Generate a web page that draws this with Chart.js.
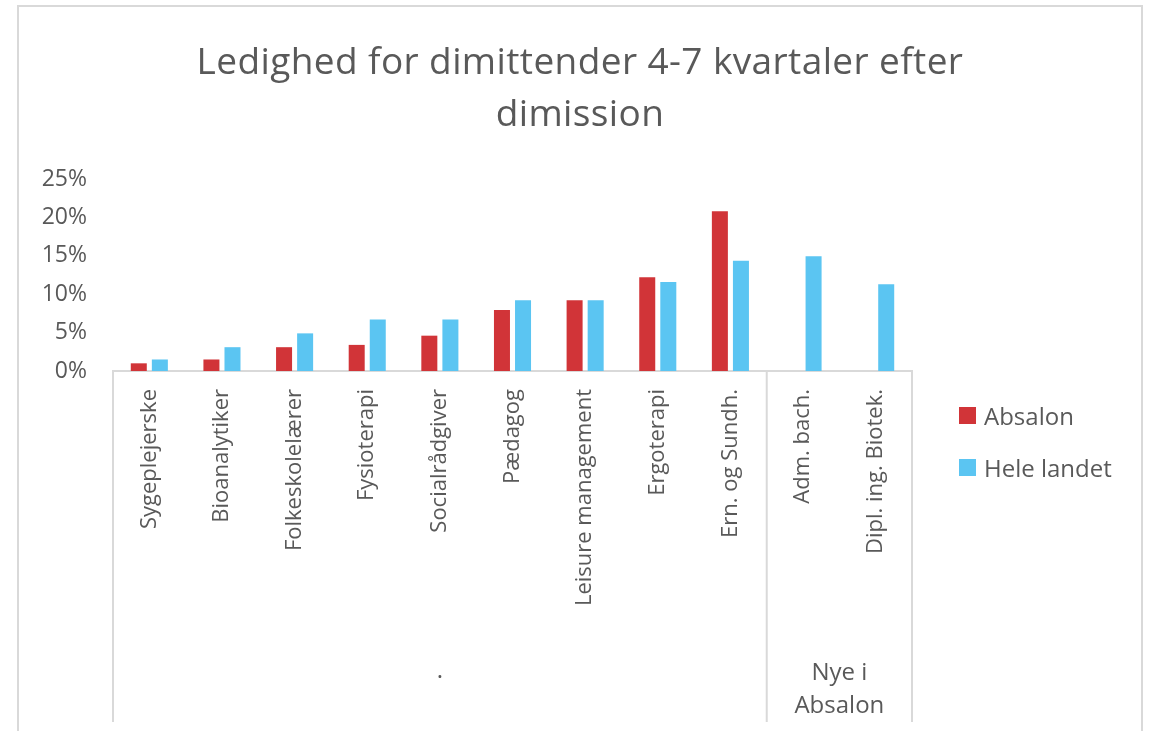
<!DOCTYPE html>
<html>
<head>
<meta charset="utf-8">
<script src="https://cdn.jsdelivr.net/npm/chart.js@4.4.1/dist/chart.umd.min.js"></script>
<style>
  html, body { margin: 0; padding: 0; background: #fff; overflow: hidden; }
  #wrap { position: relative; width: 1150px; height: 731px; }
  #frame { position: absolute; left: 17px; top: 5px; width: 1122px; height: 780px; border: 2px solid #d9d9d9; }
  #title { position: absolute; left: 18px; width: 1124px; top: 34px; text-align: center;
           font: 37px "Open Sans", sans-serif; line-height: 52px; color: #595959; letter-spacing: 0.4px; }
  #legend { position: absolute; left: 959px; top: 389px; font: 24px "Open Sans", sans-serif; color: #595959; }
  #legend .row { height: 52px; display: flex; align-items: center; }
  #legend .sw { width: 17px; height: 17px; margin-right: 8px; }
  canvas { position: absolute; left: 0; top: 0; }
</style>
</head>
<body>
<div id="wrap">
  <div id="frame"></div>
  <canvas id="chart" width="1150" height="731"></canvas>
  <div id="title"></div>
  <div id="legend"></div>
</div>
<script>
// Data (percent)
const titleLines = ["Ledighed for dimittender 4-7 kvartaler efter", "dimission"];
const categories = ["Sygeplejerske", "Bioanalytiker", "Folkeskolelærer", "Fysioterapi", "Socialrådgiver",
  "Pædagog", "Leisure management", "Ergoterapi", "Ern. og Sundh.", "Adm. bach.", "Dipl. ing. Biotek."];
const absalon = [1.0, 1.5, 3.1, 3.4, 4.6, 7.95, 9.2, 12.2, 20.8, null, null];
const heleLandet = [1.5, 3.1, 4.9, 6.7, 6.7, 9.2, 9.2, 11.6, 14.35, 14.95, 11.3];
const seriesNames = ["Absalon", "Hele landet"];
const seriesColors = ["#d13438", "#5bc5f2"];
const groupLabels = [["."], ["Nye i", "Absalon"]];
const groupSizes = [9, 2];
const yTicks = [0, 5, 10, 15, 20, 25];

const textColor = "#595959";
const lineColor = "#d9d9d9";

document.getElementById("title").innerHTML = titleLines.join("<br>");
document.getElementById("legend").innerHTML = seriesNames.map((n, i) =>
  `<div class="row"><div class="sw" style="background:${seriesColors[i]}"></div>${n}</div>`).join("");

// tegner gruppe-aksen (linjer + gruppenavne) under kategorierne
const groupAxis = {
  id: "groupAxis",
  afterDraw(chart) {
    const x = chart.scales.x;
    const ctx = chart.ctx;
    const half = (x.getPixelForValue(1) - x.getPixelForValue(0)) / 2;
    const bottom = x.bottom;
    ctx.save();
    ctx.strokeStyle = lineColor;
    ctx.lineWidth = 2;
    let start = 0;
    const edges = [x.getPixelForValue(0) - half];
    groupSizes.forEach(s => {
      start += s;
      edges.push(x.getPixelForValue(start - 1) + half);
    });
    edges.forEach(e => {
      ctx.beginPath();
      ctx.moveTo(e, x.top);
      ctx.lineTo(e, bottom);
      ctx.stroke();
    });
    ctx.fillStyle = textColor;
    ctx.font = '24px "Open Sans", sans-serif';
    ctx.textAlign = "center";
    ctx.textBaseline = "alphabetic";
    groupLabels.forEach((lines, g) => {
      const cx = (edges[g] + edges[g + 1]) / 2;
      if (lines.length === 1) {
        ctx.fillText(lines[0], cx, 678);
      } else {
        lines.forEach((t, k) => ctx.fillText(t, cx, 680 + k * 33));
      }
    });
    ctx.restore();
  }
};

new Chart(document.getElementById("chart"), {
  type: "bar",
  data: {
    labels: categories,
    datasets: [
      { label: seriesNames[0], data: absalon, backgroundColor: seriesColors[0] },
      { label: seriesNames[1], data: heleLandet, backgroundColor: seriesColors[1] }
    ]
  },
  options: {
    responsive: false,
    animation: false,
    layout: { padding: { top: 179, left: 0, right: 238, bottom: 9 } },
    categoryPercentage: 0.58,
    barPercentage: 0.76,
    plugins: {
      legend: { display: false },
      title: { display: false },
      tooltip: { enabled: false }
    },
    scales: {
      x: {
        grid: { display: false, drawTicks: false },
        border: { display: true, color: lineColor, width: 2 },
        ticks: {
          color: textColor,
          font: { family: "Open Sans", size: 22 },
          minRotation: 90, maxRotation: 90,
          padding: 18,
          autoSkip: false
        },
        afterFit(s) { s.height = 351; }
      },
      y: {
        min: 0, max: 25,
        grid: { display: false, drawTicks: false },
        border: { display: false },
        afterBuildTicks(s) { s.ticks = yTicks.map(v => ({ value: v })); },
        ticks: {
          color: textColor,
          font: { family: "Open Sans", size: 23 },
          padding: 26,
          callback: v => v + "%"
        },
        afterFit(s) { s.width = 113; }
      }
    }
  },
  plugins: [groupAxis]
});
</script>
</body>
</html>
